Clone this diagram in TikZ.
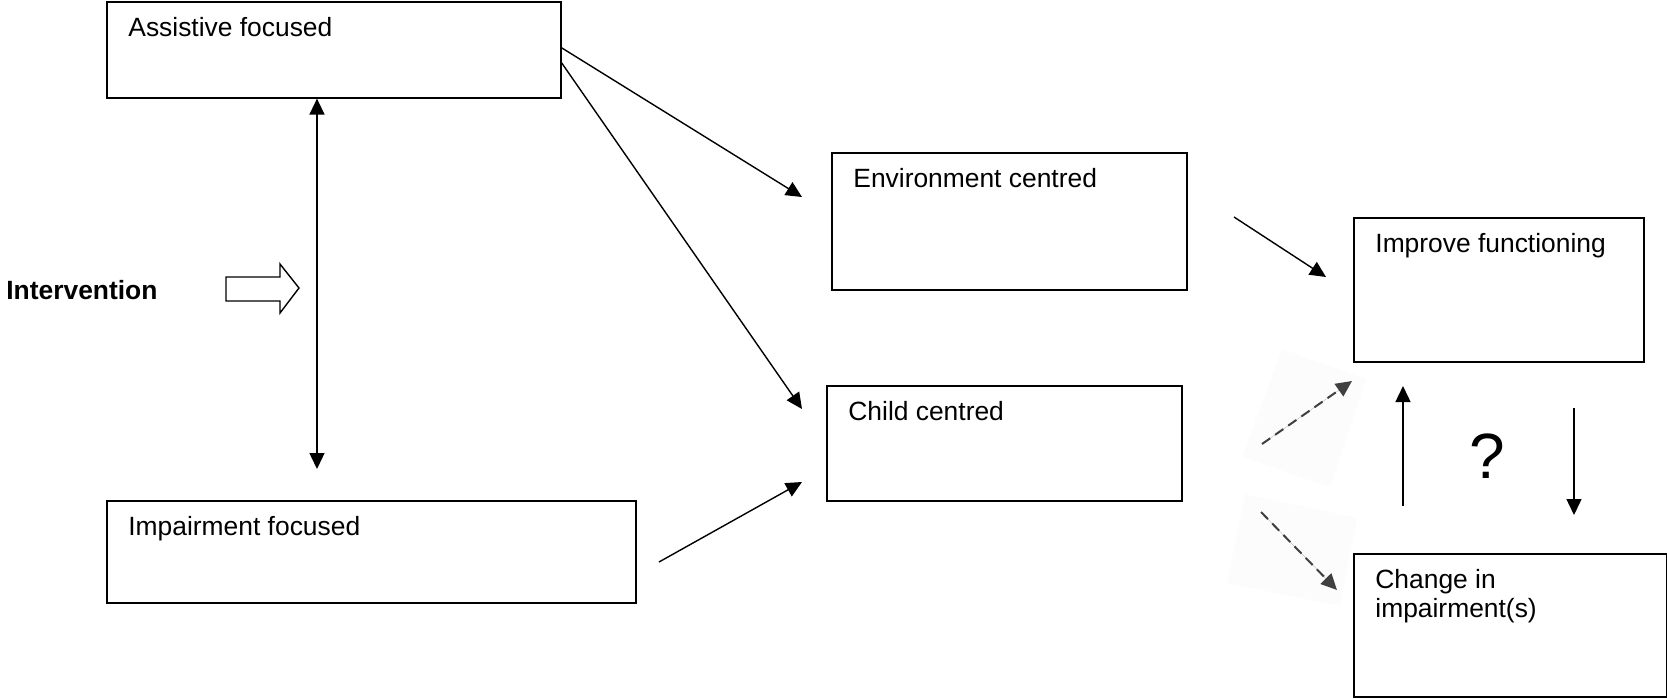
\documentclass[tikz,border=0pt]{standalone}
\usepackage{fontspec}
\setmainfont{Liberation Sans}
\usetikzlibrary{arrows.meta}
\def\px{0.5pt}
\def\txtsize{\fontsize{13.2}{14.5}\selectfont}
\def\dashgray{black!75}

\begin{document}
\begin{tikzpicture}[
    x=\px, y=-\px,
    box/.style={draw, line width=0.8pt, anchor=north west, inner sep=0pt},
    boxtext/.style={anchor=base west, inner sep=0pt, align=left, font=\txtsize},
    arrowtip/.style={line width=0.7pt, -{Triangle[length=8pt,width=7.5pt]}},
    dblarrow/.style={line width=0.7pt, {Triangle[length=8pt,width=7.5pt]}-{Triangle[length=8pt,width=7.5pt]}},
    dashtip/.style={arrowtip, line width=1pt, draw=\dashgray, fill=\dashgray, dash pattern=on 5pt off 3pt},
    patch/.style={fill=black!1.2, draw=none}
  ]
    \useasboundingbox (0,0) rectangle (1667,698);

    % faint pasted backgrounds behind the dashed arrows
    \fill[patch] (1282,349) -- (1366,379) -- (1330,487) -- (1242,457) -- cycle;
    \fill[patch] (1245,494) -- (1357,518) -- (1340,606) -- (1227,583) -- cycle;

    \def\boxes{
      assist/106/1/454/96/Assistive focused,
      env/831/152/355/137/Environment centred,
      child/826/385/355/115/Child centred,
      impair/106/500/529/102/Impairment focused,
      improve/1353/217/290/144/Improve functioning
    }

    \foreach \name / \x / \y / \w / \h / \boxlabel in \boxes {
      \node[box, minimum width=\w*\px, minimum height=\h*\px] (\name) at (\x,\y) {};
      \node[boxtext] (\name Txt) at ([shift={(22,35)}]\name.north west) {\boxlabel};
    }

    \node[box, minimum width=313*\px, minimum height=143*\px] (change) at (1353,553) {};
    % base of a two-line node is its last line
    \node[boxtext] (changeTxt) at ([shift={(22,64)}]change.north west) {Change in\\impairment(s)};

    \node[anchor=base west, inner sep=0pt, font=\txtsize\bfseries] (interv) at (6,299) {Intervention};
    \node[anchor=base, inner sep=0pt, font=\fontsize{32}{36}\selectfont] (query) at (1487,478) {?};

    % open block arrow
    \draw[line width=0.7pt] (226,277) -- (280,277) -- (280,264) -- (299,288)
      -- (280,313) -- (280,301) -- (226,301) -- cycle;

    % free ends
    \coordinate (dblBot) at (317,469);
    \coordinate (envIn) at (802,197);
    \coordinate (childIn) at (802,409);
    \coordinate (childIn2) at (802,482);
    \coordinate (impairOut) at (659,562);
    \coordinate (envOut) at (1234,217);
    \coordinate (improveIn) at (1326,277);
    \coordinate (dashUpA) at (1262,444);
    \coordinate (dashUpB) at (1352,381);
    \coordinate (dashDnA) at (1261,512);
    \coordinate (dashDnB) at (1337,590);
    \coordinate (upFrom) at (1403,506);
    \coordinate (upTo) at (1403,386);
    \coordinate (dnFrom) at (1574,408);
    \coordinate (dnTo) at (1574,515);

    \draw[dblarrow] (assist.south -| dblBot) -- (dblBot);
    \draw[arrowtip] ([shift={(0,-2)}]assist.east) -- (envIn);
    \draw[arrowtip] ([shift={(0,13)}]assist.east) -- (childIn);
    \draw[arrowtip] (impairOut) -- (childIn2);
    \draw[arrowtip] (envOut) -- (improveIn);
    \draw[dashtip] (dashUpA) -- (dashUpB);
    \draw[dashtip] (dashDnA) -- (dashDnB);
    \draw[arrowtip] (upFrom) -- (upTo);
    \draw[arrowtip] (dnFrom) -- (dnTo);
\end{tikzpicture}
\end{document}
